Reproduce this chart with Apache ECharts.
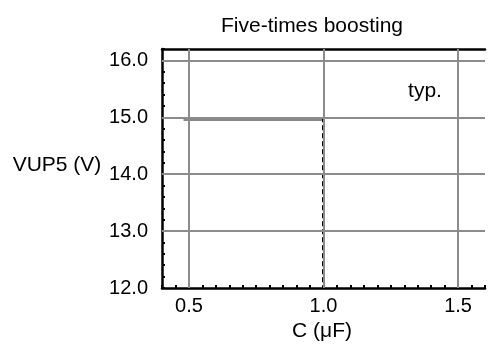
<!DOCTYPE html>
<html><head><meta charset="utf-8">
<script src="https://cdn.jsdelivr.net/npm/echarts@6/dist/echarts.min.js"></script>
<style>html,body{margin:0;padding:0;background:#fff}#c{width:488px;height:347px}</style>
</head><body><div id="c"></div>
<script>
// Data
var capX = [0.48, 1.0];        // C (µF)
var vupY = [14.97, 14.97];     // VUP5 (V), typ.
var markerX = [1.0, 1.0];
var markerY = [15.0, 12.0];
var xTickLabels = [0.5, 1.0, 1.5];
var yTickLabels = [12, 13, 14, 15, 16];

var FONT = '"Liberation Sans", Arial, sans-serif';
var FS = 20;
var FT = 21;
function pairs(xs, ys){ return xs.map(function(x,i){ return [x, ys[i]]; }); }

var chart = echarts.init(document.getElementById('c'), null, {renderer:'canvas'});
chart.setOption({
  animation:false,
  backgroundColor:'#fff',
  grid:{left:162, right:0, top:49, bottom:50, containLabel:false},
  xAxis:[{
    type:'value', min:0.4, max:1.6, interval:0.05,
    axisLine:{show:true, lineStyle:{color:'#000', width:2.5}},
    axisTick:{show:true, inside:true, length:3, lineStyle:{color:'#000', width:2}},
    splitLine:{show:false},
    axisLabel:{color:'#000', fontSize:FS, fontFamily:FONT, margin:8,
      formatter:function(v){
        for (var i=0;i<xTickLabels.length;i++) if (Math.abs(v-xTickLabels[i])<1e-6) return xTickLabels[i].toFixed(1);
        return '';
      }},
    name:'C (\u03bcF)', nameLocation:'middle', nameGap:33,
    nameTextStyle:{color:'#000', fontSize:FT, fontFamily:FONT, padding:[0,0,0,-3]}
  },{
    type:'value', position:'top', min:0.4, max:1.6,
    axisLine:{show:true, lineStyle:{color:'#000', width:2.5}},
    axisTick:{show:false}, axisLabel:{show:false}, splitLine:{show:false}
  }],
  yAxis:{
    type:'value', min:12, max:16.2, interval:0.2,
    axisLine:{show:true, lineStyle:{color:'#000', width:2.5}},
    axisTick:{show:true, inside:true, length:3, lineStyle:{color:'#000', width:2}},
    splitLine:{show:false},
    axisLabel:{color:'#000', fontSize:FS, fontFamily:FONT, margin:14,
      formatter:function(v){
        for (var i=0;i<yTickLabels.length;i++) if (Math.abs(v-yTickLabels[i])<1e-6) return yTickLabels[i].toFixed(1);
        return '';
      }}
  },
  series:[
    {
      type:'line', data:[], z:1, silent:true,
      markLine:{
        silent:true, symbol:['none','none'], animation:false,
        label:{show:false},
        lineStyle:{color:'#8c8c8c', width:2, type:'solid'},
        data: xTickLabels.map(function(x){return {xAxis:x};})
          .concat(yTickLabels.filter(function(y){return y>12;}).map(function(y){return {yAxis:y};}))
      }
    },
    {
      type:'line', data:pairs(capX, vupY), showSymbol:false, z:3,
      lineStyle:{color:'#888', width:4}
    },
    {
      type:'line', data:pairs(markerX, markerY), showSymbol:false, z:4,
      lineStyle:{color:'#000', width:3, type:[5,3]}
    }
  ],
  graphic:[
    {type:'text', x:312, y:26, style:{text:'Five-times boosting', font:FT+'px '+FONT, fill:'#000', align:'center', verticalAlign:'middle'}},
    {type:'text', x:425, y:91, style:{text:'typ.', font:FT+'px '+FONT, fill:'#000', align:'center', verticalAlign:'middle'}},
    {type:'text', x:57, y:165, style:{text:'VUP5 (V)', font:FT+'px '+FONT, fill:'#000', align:'center', verticalAlign:'middle'}}
  ]
});
</script></body></html>
